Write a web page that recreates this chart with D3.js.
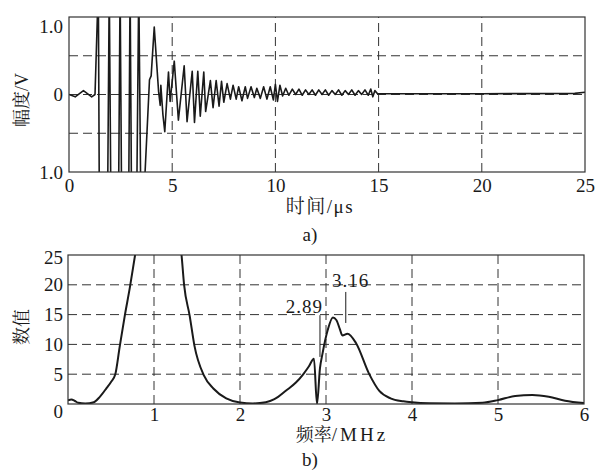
<!DOCTYPE html>
<html><head><meta charset="utf-8">
<script src="https://cdn.jsdelivr.net/npm/d3@7"></script>
<style>
body{margin:0;background:#fff}
</style>
</head><body>
<svg id="c" width="600" height="475" font-family="'Liberation Serif', 'Noto Serif CJK SC', serif"></svg>
<script>
// ---------------- DATA ----------------
// (a) waveform
const timeUs = [0,0.3,0.7,1.1,1.26,1.42,1.47,1.87,1.95,2.03,2.40,2.476,2.55,2.89,2.96,3.03,3.28,3.38,3.48,3.65,3.90,3.98,4.13,4.34,4.42,4.45,4.55,4.64,4.82,4.90,5.10,5.30,5.58,5.72,5.97,6.08,6.24,6.36,6.53,6.62,6.85,6.98,7.13,7.27,7.39,7.50,7.66,7.82,7.95,8.10,8.22,8.38,8.54,8.65,8.82,8.98,9.10,9.27,9.43,9.59,9.75,9.90,10.0,10.1,10.22,10.35,10.5,10.65,10.82,10.98,11.14,11.3,11.46,11.62,11.78,11.94,12.1,12.26,12.42,12.58,12.74,12.9,13.06,13.22,13.38,13.54,13.7,13.86,14.02,14.18,14.34,14.5,14.62,14.72,14.82,14.95,20,24.5,25];
const amplitudeV = [0,-0.03,0.05,-0.03,0,1.4,-1.4,-1.4,1.4,-1.4,-1.4,1.4,-1.4,-1.4,1.4,-1.4,-1.4,1.4,-1.4,-1.2,0.19,0.24,0.87,0.04,-0.14,0.12,-0.26,-0.48,0.29,-0.09,0.43,-0.33,0.37,-0.35,0.30,-0.36,0.30,-0.28,0.29,-0.22,0.18,-0.17,0.18,-0.15,0.17,-0.10,0.14,-0.06,0.12,-0.06,0.10,-0.08,0.10,-0.05,0.10,-0.04,0.08,-0.05,0.10,-0.06,0.10,-0.07,0.13,-0.09,0.12,-0.02,0.08,-0.01,0.07,0.0,0.07,-0.01,0.06,0.0,0.06,-0.01,0.06,0.0,0.06,-0.01,0.05,0.0,0.06,-0.01,0.05,0.0,0.06,-0.01,0.05,0.0,0.06,-0.01,0.07,-0.03,0.05,0.01,0.01,0.015,0.03];
const timeTicks = [0,5,10,15,20,25];
const timeGrid = [5,10,15,20];
const ampTicks = [1,0,-1];
const ampTickLabels = ["1.0","0","1.0"];
const ampGrid = [0.5,0,-0.5];

// (b) spectrum
const freqMHz = [0,0.04,0.08,0.12,0.2,0.3,0.37,0.45,0.5,0.55,0.6,0.66,0.72,0.78,0.85,0.95,1.05,1.15,1.25,1.32,1.35,1.415,1.47,1.58,1.69,1.84,2.0,2.15,2.3,2.4,2.54,2.65,2.73,2.8,2.86,2.895,2.93,2.96,3.02,3.08,3.12,3.16,3.19,3.25,3.35,3.5,3.62,3.75,3.9,4.0,4.2,4.5,4.82,5.0,5.2,5.4,5.59,5.78,6.0];
const spectrum = [0.6,0.75,0.5,0.2,0.08,0.3,1.2,2.7,3.7,5.0,9.5,14.8,19.6,25,31,36,37,35,30,25,20,14.8,9.8,4.8,2.6,0.95,0.25,0.1,0.3,0.8,2.3,3.6,4.9,6.3,7.6,0,6,8.5,12.4,14.5,14.1,12.6,11.5,11.8,10.2,5.1,2.2,0.95,0.45,0.28,0.12,0.08,0.2,0.65,1.35,1.5,1.2,0.55,0.15];
const freqTicks = [1,2,3,4,5,6];
const freqGrid = [1,2,3,4,5];
const valueTicks = [0,5,10,15,20,25];
const valueGrid = [5,10,15,20];
const peakLabels = ["2.89","3.16"];
const peakMarkF = [2.93,3.23];
const peakMarkTop = [14.9,18.8];
const peakMarkBottom = [7.9,13.6];
const peakTextF = [2.965,3.07];
const peakTextV = [15.3,19.6];

// ---------------- DRAW ----------------
const svg = d3.select("#c");
const ink = "#1a1a1a";

function panel(id, xr, yr, xd, yd, xGrid, yGrid) {
  const x = d3.scaleLinear().domain(xd).range(xr);
  const y = d3.scaleLinear().domain(yd).range(yr);
  const g = svg.append("g");
  svg.append("clipPath").attr("id", id).append("rect")
    .attr("x", xr[0]).attr("y", yr[1]).attr("width", xr[1]-xr[0]).attr("height", yr[0]-yr[1]);
  g.selectAll(".vg").data(xGrid).join("line")
    .attr("x1", d=>x(d)).attr("x2", d=>x(d)).attr("y1", yr[0]).attr("y2", yr[1])
    .attr("stroke", "#333").attr("stroke-width", 1).attr("stroke-dasharray", "9,5");
  g.selectAll(".hg").data(yGrid).join("line")
    .attr("y1", d=>y(d)).attr("y2", d=>y(d)).attr("x1", xr[0]).attr("x2", xr[1])
    .attr("stroke", "#333").attr("stroke-width", 1).attr("stroke-dasharray", "9,5");
  return {x, y, g};
}
function styleTicks(sel){
  sel.select(".domain").remove();
  sel.attr("font-family", null).attr("font-size", null);
  sel.selectAll("text").attr("font-size",19).attr("fill",ink);
}

// ----- panel (a)
const A = panel("clipA", [69,585], [172,17], [0,25], [-1,1], timeGrid, ampGrid);
A.g.append("path")
  .datum(timeUs.map((t,i)=>[t, amplitudeV[i]]))
  .attr("clip-path", "url(#clipA)")
  .attr("fill", "none").attr("stroke", ink).attr("stroke-width", 1.6).attr("stroke-linejoin","round")
  .attr("d", d3.line().x(d=>A.x(d[0])).y(d=>A.y(d[1])));
A.g.append("rect").attr("x",69).attr("y",17).attr("width",516).attr("height",155)
  .attr("fill","none").attr("stroke","#333").attr("stroke-width",1.2);
const gax = svg.append("g").attr("transform","translate(0,172)")
  .call(d3.axisBottom(A.x).tickValues(timeTicks).tickSize(0).tickPadding(7).tickFormat(d3.format("d")));
styleTicks(gax);
const gay = svg.append("g").attr("transform","translate(69,0)")
  .call(d3.axisLeft(A.y).tickValues(ampTicks).tickSize(0).tickPadding(6).tickFormat((d,i)=>ampTickLabels[i]));
styleTicks(gay);
gay.selectAll("text").attr("dy", d => d===1 ? "0.8em" : "0.32em");
svg.append("text").attr("transform","translate(28,100) rotate(-90)").attr("text-anchor","middle")
  .attr("font-size",18).attr("fill",ink).text("幅度/V");
svg.append("text").attr("x",320).attr("y",213).attr("text-anchor","middle").attr("fill",ink)
  .attr("font-size",19).attr("letter-spacing",1.5).text("时间/μs");
svg.append("text").attr("x",310).attr("y",241).attr("text-anchor","middle").attr("fill",ink)
  .attr("font-size",19).text("a)");

// ----- panel (b)
const B = panel("clipB", [68,584], [404,255], [0,6], [0,25], freqGrid, valueGrid);
B.g.append("path")
  .datum(freqMHz.map((f,i)=>[f, spectrum[i]]))
  .attr("clip-path", "url(#clipB)")
  .attr("fill", "none").attr("stroke", ink).attr("stroke-width", 2).attr("stroke-linejoin","round")
  .attr("d", d3.line().curve(d3.curveMonotoneX).x(d=>B.x(d[0])).y(d=>B.y(d[1])));
B.g.append("rect").attr("x",68).attr("y",255).attr("width",516).attr("height",149)
  .attr("fill","none").attr("stroke","#333").attr("stroke-width",1.2);
peakLabels.forEach((lab,i)=>{
  B.g.append("line").attr("x1",B.x(peakMarkF[i])).attr("x2",B.x(peakMarkF[i]))
    .attr("y1",B.y(peakMarkTop[i])).attr("y2",B.y(peakMarkBottom[i]))
    .attr("stroke",ink).attr("stroke-width",1);
  B.g.append("text").attr("x",B.x(peakTextF[i])).attr("y",B.y(peakTextV[i]))
    .attr("text-anchor", i===0 ? "end" : "start").attr("fill",ink)
    .attr("font-size",19).attr("letter-spacing",1).text(lab);
});
const gbx = svg.append("g").attr("transform","translate(0,404)")
  .call(d3.axisBottom(B.x).tickValues(freqTicks).tickSize(0).tickPadding(4).tickFormat(d3.format("d")));
styleTicks(gbx);
const gby = svg.append("g").attr("transform","translate(68,0)")
  .call(d3.axisLeft(B.y).tickValues(valueTicks).tickSize(0).tickPadding(5).tickFormat(d3.format("d")));
styleTicks(gby);
gby.selectAll("text").attr("dy", d => d===0 ? "0.7em" : (d===25 ? "0.45em" : "0.32em"));
svg.append("text").attr("transform","translate(28,327) rotate(-90)").attr("text-anchor","middle")
  .attr("font-size",18).attr("fill",ink).text("数值");
const tb = svg.append("text").attr("x",342).attr("y",441).attr("text-anchor","middle").attr("font-size",19).attr("fill",ink);
tb.append("tspan").attr("font-size",18).text("频率");
tb.append("tspan").attr("letter-spacing",3).text("/MHz");
svg.append("text").attr("x",310).attr("y",466).attr("text-anchor","middle").attr("fill",ink)
  .attr("font-size",19).text("b)");
</script>
</body></html>
